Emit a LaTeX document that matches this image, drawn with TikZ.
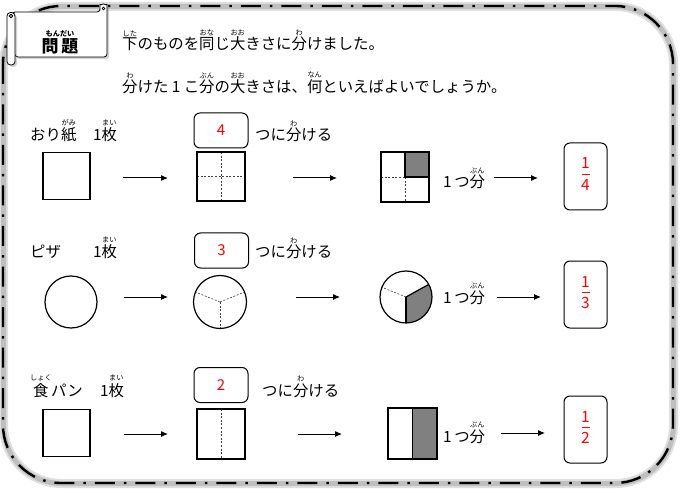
\documentclass[tikz,border=0pt]{standalone}
\usepackage{fontspec}
\setmainfont{Noto Sans CJK JP}
\usetikzlibrary{arrows.meta,shadows}
\newcommand\rubyf{\fontsize{7.2}{8}\selectfont}
\newcommand\furi[2]{\leavevmode\setbox0=\hbox{#1}\vbox{\offinterlineskip\hbox to\wd0{\hss\rubyf #2\hss}\kern1.8pt\box0}}
\tikzset{
  txt/.style={anchor=base west, inner sep=0pt, font=\fontsize{15.4}{17}\selectfont},
  shp/.style={draw, line width=1.2pt},
  dv/.style={line width=0.6pt, dash pattern=on 2pt off 1.6pt, black!75},
  arr/.style={-{Latex[length=7pt,width=6pt]}, line width=1pt},
  numbox/.style={draw, rounded corners=6pt, line width=1pt, minimum width=54pt, minimum height=35pt, inner sep=0pt, text=red, font=\fontsize{15}{17}\selectfont},
  ansbox/.style={draw, rounded corners=6pt, line width=1pt, minimum width=43pt, minimum height=67pt, inner sep=0pt},
  fr/.style={anchor=base, inner sep=0pt, text=red, font=\fontsize{15.5}{17}\selectfont},
  frbar/.style={draw=red, line width=0.9pt},
  sqbox/.style={draw, line width=1.2pt, minimum size=47pt, inner sep=0pt, outer sep=0pt},
  frame/.style={rounded corners=58pt},
  scroll/.style={draw, line width=0.8pt, fill=white, drop shadow={shadow xshift=2pt, shadow yshift=-2pt, opacity=0.35}}
}
\begin{document}
\begin{tikzpicture}[x=1pt,y=-1pt]
\useasboundingbox (0,0) rectangle (680,489);
\fill[white] (0,0) rectangle (680,489);
% frame
\draw[frame, line width=9pt, black!12] (3.5,6.5) rectangle (673.5,483.5);
\draw[frame, line width=5pt, black!25] (3.5,6.5) rectangle (673.5,483.5);
\draw[frame, line width=2.4pt, dash pattern=on 20pt off 9pt on 2.5pt off 9pt] (3,6) rectangle (673,483);
% scroll
\filldraw[scroll, rounded corners=3pt] (12,12) -- (100,12) -- (100,7.5) arc[start angle=180, end angle=360, radius=3.5] -- (107,57) -- (15,57) -- cycle;
\draw[line width=0.8pt] (103.5,8.5) circle (1.4);
\filldraw[scroll, rounded corners=3.5pt] (7,12.5) rectangle (15,65);
\draw[line width=0.8pt] (11,16) circle (1.8);
\node[anchor=base, inner sep=0pt, font=\fontsize{17}{19}\selectfont\bfseries] (hd) at (60,52.5) {\furi{問\,題}{もんだい}};
% instructions
\node[txt] (t1) at (122,50) {\furi{下}{した}のものを\furi{同}{おな}じ\furi{大}{おお}きさに\furi{分}{わ}けました。};
\node[txt] (t2) at (122,93) {\furi{分}{わ}けた 1 こ\furi{分}{ぶん}の\furi{大}{おお}きさは、\furi{何}{なん}といえばよいでしょうか。};
% ---------- row 1
\node[txt] (l1a) at (30,141) {おり\furi{紙}{がみ}};
\node[txt] (l1b) at (93,141) {1\furi{枚}{まい}};
\node[sqbox] (s11) at (66.5,176) {};
\node[numbox] (n1) at (221,130.5) {4};
\node[txt] (k1) at (255,141) {つに\furi{分}{わ}ける};
\draw[dv] (221,152) -- (221,201);
\draw[dv] (197,176.5) -- (245,176.5);
\draw[shp] (197,152) rectangle (245,201);
\fill[gray] (405,152) rectangle (429,177);
\draw[dv] (381,177) -- (405,177);
\draw[dv] (405,177) -- (405,202);
\draw[shp] (405,152) rectangle (429,177);
\draw[shp] (381,152) rectangle (429,202);
\node[txt] (u1) at (443,188) {1\,つ\furi{分}{ぶん}};
\node[ansbox] (b1) at (585.5,176.5) {};
\node[fr] (p1) at (585.5,169) {1};
\draw[frbar] (581.5,174.5) -- (589.5,174.5);
\node[fr] (q1) at (585.5,191) {4};
\coordinate (a1s) at (123,178); \coordinate (a1e) at (168,178);
\coordinate (a2s) at (293,178); \coordinate (a2e) at (337,178);
\coordinate (a3s) at (494,178); \coordinate (a3e) at (538,178);
\draw[arr] (a1s) -- (a1e);
\draw[arr] (a2s) -- (a2e);
\draw[arr] (a3s) -- (a3e);
% ---------- row 2
\node[txt] (l2a) at (30,258) {ピザ};
\node[txt] (l2b) at (93,258) {1\furi{枚}{まい}};
\draw[shp] (71,302) circle (26);
\node[numbox] (n2) at (221.5,250.5) {3};
\node[txt] (k2) at (255,258) {つに\furi{分}{わ}ける};
\coordinate (c2) at (220,302);
\draw[dv] (c2) -- ++(-22:26.5);
\draw[dv] (c2) -- ++(-158:26.5);
\draw[dv] (c2) -- ++(90:26.5);
\draw[shp] (c2) circle (26.5);
\coordinate (c3) at (406,297);
\fill[gray] (c3) -- ++(90:26) arc[start angle=90, end angle=-29, radius=26] -- cycle;
\draw[dv] (c3) -- ++(-158:26);
\draw[shp] (c3) -- ++(90:26);
\draw[shp] (c3) -- ++(-29:26);
\draw[shp] (c3) circle (26);
\node[txt] (u2) at (443,303) {1\,つ\furi{分}{ぶん}};
\node[ansbox] (b2) at (585.5,294.5) {};
\node[fr] (p2) at (585.5,287) {1};
\draw[frbar] (581.5,292) -- (589.5,292);
\node[fr] (q2) at (585.5,308) {3};
\coordinate (a4s) at (124,297); \coordinate (a4e) at (168,297);
\coordinate (a5s) at (296,297); \coordinate (a5e) at (340,297);
\coordinate (a6s) at (497,297); \coordinate (a6e) at (541,297);
\draw[arr] (a4s) -- (a4e);
\draw[arr] (a5s) -- (a5e);
\draw[arr] (a6s) -- (a6e);
% ---------- row 3
\node[txt] (l3a) at (33,396) {\furi{食}{しょく}\,パン};
\node[txt] (l3b) at (100,396) {1\furi{枚}{まい}};
\node[sqbox] (s31) at (66.5,433) {};
\node[numbox] (n3) at (221,385) {2};
\node[txt] (k3) at (262,396) {つに\furi{分}{わ}ける};
\draw[dv] (221,409) -- (221,459);
\draw[shp] (197,409) rectangle (245,459);
\filldraw[fill=gray, line width=1.2pt] (412.5,408) rectangle (437,459);
\draw[shp] (388,408) rectangle (437,459);
\node[txt] (u3) at (443,442) {1\,つ\furi{分}{ぶん}};
\node[ansbox] (b3) at (585.5,429.5) {};
\node[fr] (p3) at (585.5,422) {1};
\draw[frbar] (581.5,427) -- (589.5,427);
\node[fr] (q3) at (585.5,443) {2};
\coordinate (a7s) at (124,434); \coordinate (a7e) at (168,434);
\coordinate (a8s) at (298,434); \coordinate (a8e) at (342,434);
\coordinate (a9s) at (501,433); \coordinate (a9e) at (545,433);
\draw[arr] (a7s) -- (a7e);
\draw[arr] (a8s) -- (a8e);
\draw[arr] (a9s) -- (a9e);
\end{tikzpicture}
\end{document}
